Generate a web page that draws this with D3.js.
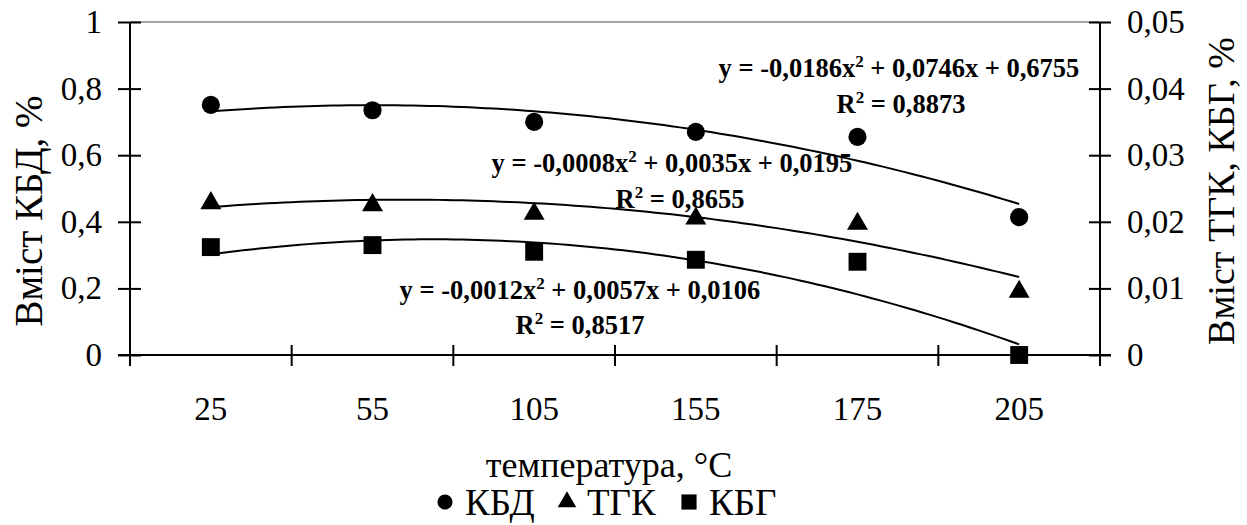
<!DOCTYPE html>
<html>
<head>
<meta charset="utf-8">
<script src="https://cdn.jsdelivr.net/npm/d3@7"></script>
<style>
  body { margin: 0; background: #fff; }
  svg text { font-family: "Liberation Serif", "Times New Roman", Times, "DejaVu Serif", serif !important; fill: #000; }
  .eq { font-weight: bold; font-size: 26.5px; }
</style>
</head>
<body>
<svg id="chart" width="1247" height="525"></svg>
<script>
// data
const temps = ["25", "55", "105", "155", "175", "205"];
const kbd = [0.751, 0.735, 0.70, 0.67, 0.655, 0.414];      // left axis
const tgk = [0.0228, 0.0225, 0.0212, 0.0205, 0.0197, 0.0095]; // right axis
const kbg = [0.0162, 0.0165, 0.0155, 0.0143, 0.0140, 0.0];    // right axis
const leftTicks = [0, 0.2, 0.4, 0.6, 0.8, 1];
const rightTicks = [0, 0.01, 0.02, 0.03, 0.04, 0.05];

// trendline coefficients printed on the chart (a, b, c for a*x^2 + b*x + c)
const kbdFit = [-0.0186, 0.0746, 0.6755];
const tgkFit = [-0.0008, 0.0035, 0.0195];
const kbgFit = [-0.0012, 0.0057, 0.0106];

const svg = d3.select("#chart");
const margin = { left: 130, right: 147, top: 22, bottom: 170 };
const width = 1247, height = 525;
const plotW = width - margin.left - margin.right;
const y0 = 355;

const x = d3.scaleBand().domain(temps).range([margin.left, margin.left + plotW]);
const yL = d3.scaleLinear().domain([0, 1]).range([y0, margin.top]);
const yR = d3.scaleLinear().domain([0, 0.05]).range([y0, margin.top]);
const fmt = d => String(d).replace(".", ",");

// top border (gray)
svg.append("line")
    .attr("x1", margin.left).attr("x2", margin.left + plotW)
    .attr("y1", margin.top).attr("y2", margin.top)
    .attr("stroke", "#888").attr("stroke-width", 1.5);

// left axis
const gL = svg.append("g").attr("transform", `translate(${margin.left},0)`)
    .call(d3.axisLeft(yL).tickValues(leftTicks).tickFormat(fmt).tickSize(12).tickPadding(16));
gL.selectAll(".tick line").attr("x2", -12).attr("x1", 11);
// right axis
const gR = svg.append("g").attr("transform", `translate(${margin.left + plotW},0)`)
    .call(d3.axisRight(yR).tickValues(rightTicks).tickFormat(fmt).tickSize(11).tickPadding(16));
gR.selectAll(".tick line").attr("x1", -11);
// bottom axis, ticks between categories
const gB = svg.append("g").attr("transform", `translate(0,${y0})`)
    .call(d3.axisBottom(x).tickSize(0).tickPadding(42));
gB.selectAll(".tick line").remove();
const edges = temps.map(t => x(t)).concat([margin.left + plotW]);
gB.selectAll(".edge").data(edges).join("line")
    .attr("x1", d => d).attr("x2", d => d)
    .attr("y1", -10).attr("y2", 11)
    .attr("stroke", "#000").attr("stroke-width", 2);
gB.select(".domain").attr("d", `M${margin.left - 12},0H${margin.left + plotW + 11}`);

[gL, gR, gB].forEach(g => {
    g.attr("font-family", null);
    g.selectAll(".domain").attr("stroke", "#000").attr("stroke-width", 2);
    g.selectAll(".tick line").attr("stroke", "#000").attr("stroke-width", 2);
    g.selectAll("text").style("font-size", "33px");
});
gL.select(".domain").attr("d", `M0,${y0}V${margin.top}`);
gR.select(".domain").attr("d", `M0,${y0}V${margin.top}`);

// trendlines over x = 1..6
const cx = i => x(temps[i]) + x.bandwidth() / 2;
function trend(fit, yScale) {
    const pts = d3.range(1, 6.001, 0.05).map(t => {
        const v = fit[0] * t * t + fit[1] * t + fit[2];
        return [cx(0) + (t - 1) * x.step(), yScale(v)];
    });
    svg.append("path").attr("d", d3.line()(pts))
        .attr("fill", "none").attr("stroke", "#000").attr("stroke-width", 2);
}
trend(kbdFit, yL);
trend(tgkFit, yR);
trend(kbgFit, yR);

// markers
svg.append("g").selectAll("path").data(kbd).join("path")
    .attr("d", d3.symbol(d3.symbolCircle, 260))
    .attr("transform", (d, i) => `translate(${cx(i)},${yL(d)})`);
svg.append("g").selectAll("path").data(tgk).join("path")
    .attr("d", d3.symbol(d3.symbolTriangle, 190))
    .attr("transform", (d, i) => `translate(${cx(i)},${yR(d)})`);
svg.append("g").selectAll("path").data(kbg).join("path")
    .attr("d", d3.symbol(d3.symbolSquare, 320))
    .attr("transform", (d, i) => `translate(${cx(i)},${yR(d)})`);

// equation labels
function eq(xPos, yPos, rx, ry, a, b, c, r2) {
    const t = svg.append("text").attr("class", "eq").attr("text-anchor", "middle")
        .attr("x", xPos).attr("y", yPos);
    t.append("tspan").text(`y = ${a}x`);
    t.append("tspan").attr("dy", -10).style("font-size", "17px").text("2");
    t.append("tspan").attr("dy", 10).text(` + ${b}x + ${c}`);
    const r = svg.append("text").attr("class", "eq").attr("text-anchor", "middle")
        .attr("x", rx).attr("y", ry);
    r.append("tspan").text("R");
    r.append("tspan").attr("dy", -10).style("font-size", "17px").text("2");
    r.append("tspan").attr("dy", 10).text(` = ${r2}`);
}
eq(899, 77, 901, 113, "-0,0186", "0,0746", "0,6755", "0,8873");
eq(672, 172, 680, 208, "-0,0008", "0,0035", "0,0195", "0,8655");
eq(580, 299, 580, 334, "-0,0012", "0,0057", "0,0106", "0,8517");

// axis titles
svg.append("text").attr("transform", "translate(42,211) rotate(-90)")
    .attr("text-anchor", "middle").style("font-size", "39px").text("Вміст КБД, %");
svg.append("text").attr("transform", "translate(1234,191) rotate(-90)")
    .attr("text-anchor", "middle").style("font-size", "38px").text("Вміст ТГК, КБГ, %");
svg.append("text").attr("x", 609).attr("y", 477)
    .attr("text-anchor", "middle").style("font-size", "36px").text("температура, °С");

// legend
const legend = [
    { name: "КБД", sym: d3.symbolCircle, size: 180 },
    { name: "ТГК", sym: d3.symbolTriangle, size: 150 },
    { name: "КБГ", sym: d3.symbolSquare, size: 230 }
];
const legX = [445, 567, 689];
legend.forEach((d, i) => {
    svg.append("path").attr("d", d3.symbol(d.sym, d.size))
        .attr("transform", `translate(${legX[i]},${502})`);
    svg.append("text").attr("x", legX[i] + 20).attr("y", 515)
        .style("font-size", "37px").text(d.name);
});
</script>
</body>
</html>
